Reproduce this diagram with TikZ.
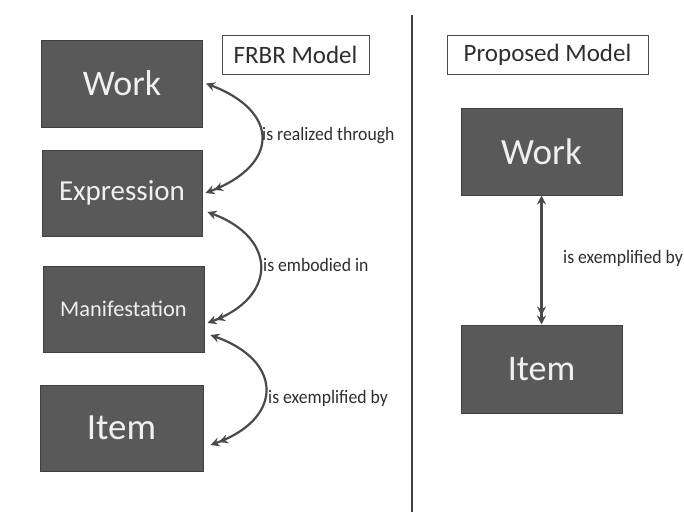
\documentclass[tikz,border=0pt]{standalone}
\usepackage{fontspec}
\usepackage{graphicx}
\setmainfont{Carlito}
\usetikzlibrary{arrows.meta}
\definecolor{boxfill}{HTML}{595959}
\definecolor{boxline}{HTML}{404040}
\definecolor{inktext}{HTML}{2E2E2E}
\definecolor{linkgray}{HTML}{4A4A4A}
\newcommand{\narrow}[1]{\scalebox{0.93}[1]{#1}}
\begin{document}
\begin{tikzpicture}[x=1pt,y=-1pt,
  entity/.style={draw=boxline,fill=boxfill,line width=1pt,text=white!94!black,
    inner sep=0pt,minimum width=161pt,minimum height=87pt,anchor=center},
  titlebox/.style={draw=linkgray,fill=white,line width=1pt,text=inktext,
    inner sep=0pt,minimum height=39pt,font=\fontsize{25}{28}\selectfont},
  relation/.style={text=inktext,anchor=west,inner sep=0pt,font=\fontsize{19}{21}\selectfont},
  link/.style={draw=linkgray,line width=2.2pt,
    arrows={Stealth[length=9pt,width=9pt,inset=3pt]-Stealth[length=9pt,width=9pt,inset=3pt] Stealth[length=9pt,width=9pt,inset=3pt]}}
]
\useasboundingbox (0,0) rectangle (684,517);
\fill[white] (0,0) rectangle (684,517);

% divider between the two models
\coordinate (divtop) at (412,15);
\coordinate (divbot) at (412,512);
\draw[line width=2.4pt,draw=boxline] (divtop) -- (divbot);

% FRBR model
\node[titlebox,minimum width=147pt] (frbr) at (295.5,54.5) {FRBR Model};
\node[entity,font=\fontsize{36}{40}\selectfont] (work) at (122,83.5) {Work};
\node[entity,minimum width=160pt,minimum height=86pt,font=\fontsize{29}{32}\selectfont] (expr) at (122,193) {Expression};
\node[entity,minimum height=86pt,font=\fontsize{22.4}{26}\selectfont] (manif) at (123.5,309) {Manifestation};
\node[entity,minimum width=163pt,minimum height=86pt,font=\fontsize{37}{40}\selectfont] (item) at (121.5,428) {Item};

\draw[link] ([xshift=3pt]work.east) .. controls +(74,28) and +(74,-28) .. ([xshift=3pt]expr.east);
\draw[link] ([xshift=5pt,yshift=-19pt]expr.east) .. controls +(70,26) and +(70,-26) .. ([xshift=3pt,yshift=-14pt]manif.east);
\draw[link] ([xshift=6pt,yshift=-26pt]manif.east) .. controls +(73,26) and +(73,-26) .. ([xshift=7pt,yshift=-17pt]item.east);

\node[relation] (lab1) at (262,136) {\narrow{is realized through}};
\node[relation] (lab2) at (263,265) {\narrow{is embodied in}};
\node[relation] (lab3) at (268,398) {\narrow{is exemplified by}};

% proposed model
\node[titlebox,minimum width=201pt] (prop) at (547.5,54.5) {Proposed Model};
\node[entity,font=\fontsize{37}{40}\selectfont] (pwork) at (541.5,151.5) {Work};
\node[entity,minimum height=88pt,font=\fontsize{36}{40}\selectfont] (pitem) at (541.5,369) {Item};
\draw[link] (pwork.south) -- (pitem.north);
\node[relation] (lab4) at (563,258) {\narrow{is exemplified by}};
\end{tikzpicture}
\end{document}
